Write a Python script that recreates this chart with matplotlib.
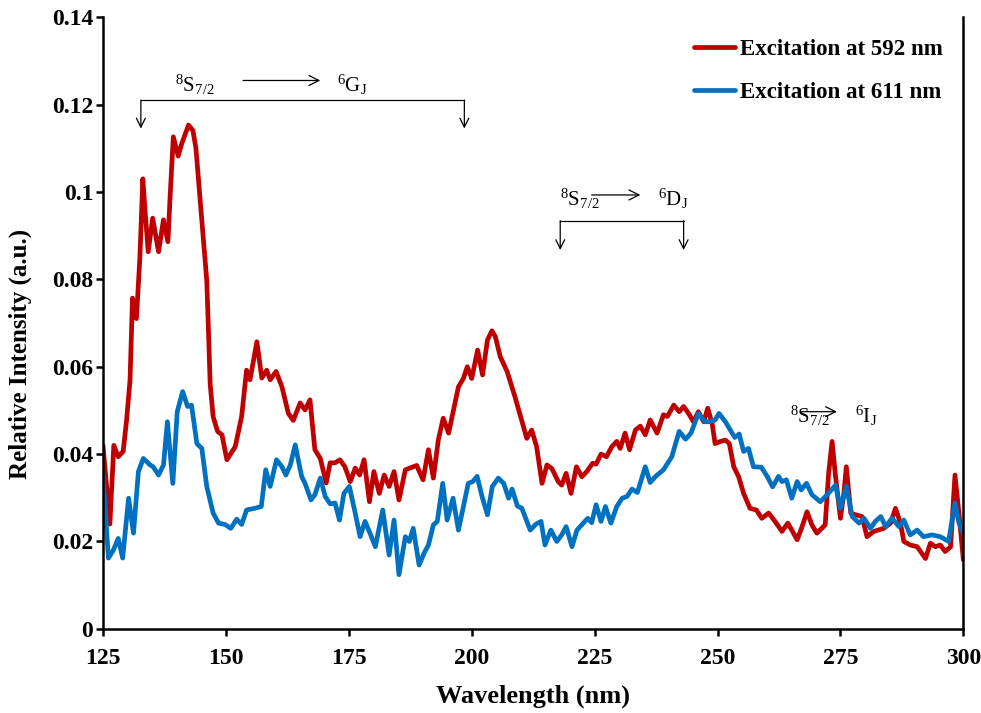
import matplotlib
matplotlib.use('Agg')
import matplotlib.pyplot as plt

plt.rcParams['font.family'] = ['Liberation Serif', 'DejaVu Serif']
plt.rcParams['mathtext.fontset'] = 'custom'
plt.rcParams['mathtext.rm'] = 'Liberation Serif'
plt.rcParams['mathtext.it'] = 'Liberation Serif:italic'
plt.rcParams['mathtext.bf'] = 'Liberation Serif:bold'

# Excitation at 592 nm (red)
wl_592 = [125.0, 126.4, 127.2, 128.1, 129.1, 129.8, 130.5, 131.0, 131.8, 132.5,
          133.1, 133.6, 134.2, 135.1, 136.3, 137.3, 138.2, 138.7, 139.3, 140.3,
          141.0, 142.4, 143.3, 143.9, 144.7, 145.5, 146.1, 146.4, 146.8, 147.4,
          148.3, 149.2, 150.2, 151.9, 153.2, 154.2, 154.9, 156.3, 157.3, 158.3,
          159.0, 160.2, 161.4, 162.7, 163.7, 165.1, 166.1, 167.1, 168.1, 169.2,
          170.4, 171.2, 172.2, 173.2, 174.2, 175.3, 176.3, 177.2, 178.1, 179.2,
          180.1, 181.2, 182.2, 183.2, 184.2, 185.2, 186.5, 188.8, 190.1, 191.2,
          192.2, 193.2, 194.2, 195.3, 197.3, 198.3, 199.1, 200.0, 201.2, 202.2,
          203.2, 204.1, 204.8, 205.8, 207.2, 208.8, 211.2, 212.2, 213.2, 214.3,
          215.3, 216.3, 217.6, 218.3, 219.2, 220.2, 221.3, 222.4, 223.4, 224.6,
          225.3, 226.3, 227.4, 228.5, 229.5, 230.2, 231.2, 232.1, 233.3, 234.3,
          235.3, 236.3, 237.7, 239.0, 239.8, 241.1, 242.2, 243.1, 244.1, 245.1,
          246.1, 247.2, 248.0, 248.9, 249.5, 250.6, 251.6, 252.4, 253.3, 254.3,
          255.3, 256.6, 257.9, 259.0, 260.4, 261.7, 263.1, 264.3, 266.2, 267.2,
          268.2, 269.2, 270.2, 271.9, 272.6, 273.3, 274.0, 275.0, 275.7, 276.2,
          277.1, 278.1, 279.4, 280.4, 281.8, 283.8, 285.2, 286.2, 287.2, 287.9,
          289.2, 290.6, 292.3, 293.3, 294.3, 295.3, 296.3, 297.4, 298.3, 299.1,
          300.0]
int_592 = [0.042, 0.024, 0.042, 0.0394, 0.0406, 0.0478, 0.057, 0.0757, 0.071, 0.085,
           0.103, 0.095, 0.0863, 0.094, 0.0863, 0.0936, 0.0886, 0.100, 0.1126, 0.1082,
           0.111, 0.1153, 0.114, 0.110, 0.0989, 0.088, 0.0798, 0.070, 0.056, 0.0486,
           0.0452, 0.0444, 0.0387, 0.0417, 0.0486, 0.0592, 0.057, 0.0657, 0.0574, 0.0592,
           0.057, 0.0589, 0.0554, 0.0493, 0.0477, 0.0517, 0.0501, 0.0524, 0.041, 0.039,
           0.0334, 0.038, 0.038, 0.0387, 0.0371, 0.0337, 0.0368, 0.0352, 0.0387, 0.0291,
           0.036, 0.031, 0.0352, 0.0326, 0.036, 0.0295, 0.0364, 0.0374, 0.0341, 0.041,
           0.0345, 0.0432, 0.0482, 0.0448, 0.0554, 0.0573, 0.060, 0.0573, 0.0638, 0.0581,
           0.0661, 0.0682, 0.0669, 0.0623, 0.0589, 0.0531, 0.0436, 0.0455, 0.0417, 0.0333,
           0.0375, 0.0367, 0.0337, 0.0329, 0.0356, 0.031, 0.0371, 0.0348, 0.036, 0.0379,
           0.0377, 0.040, 0.0394, 0.0417, 0.0429, 0.0413, 0.0448, 0.041, 0.0455, 0.0464,
           0.0444, 0.0478, 0.0448, 0.049, 0.0486, 0.0512, 0.0497, 0.0509, 0.0493, 0.0474,
           0.0497, 0.0474, 0.0505, 0.047, 0.0424, 0.0429, 0.0432, 0.0424, 0.0371, 0.0348,
           0.031, 0.0276, 0.0272, 0.0253, 0.0265, 0.0246, 0.0223, 0.0242, 0.0204, 0.0234,
           0.0268, 0.0238, 0.0219, 0.0238, 0.0356, 0.0429, 0.0349, 0.0253, 0.031, 0.0371,
           0.0265, 0.0261, 0.0257, 0.0211, 0.0223, 0.023, 0.0242, 0.0276, 0.0242, 0.020,
           0.0192, 0.0188, 0.0161, 0.0196, 0.0188, 0.0192, 0.0177, 0.0188, 0.0352, 0.0265,
           0.0158]

# Excitation at 611 nm (blue)
wl_611 = [125.0, 126.1, 127.1, 128.1, 129.0, 130.2, 131.2, 132.2, 133.2, 134.6,
          135.2, 136.3, 137.3, 138.1, 139.2, 140.1, 141.2, 142.2, 143.0, 144.1,
          145.1, 146.1, 147.4, 148.5, 149.8, 151.0, 152.2, 153.2, 154.2, 155.9,
          157.2, 158.1, 159.0, 160.3, 161.4, 162.2, 163.1, 164.1, 165.4, 166.1,
          167.3, 168.1, 169.2, 170.2, 171.2, 172.2, 173.1, 174.0, 175.1, 176.3,
          177.3, 178.3, 179.3, 180.4, 181.9, 183.2, 184.2, 185.2, 186.5, 187.3,
          188.1, 189.3, 190.3, 191.2, 192.2, 193.0, 194.1, 195.0, 196.2, 197.3,
          198.3, 199.3, 200.2, 201.1, 202.1, 203.2, 204.2, 205.4, 206.5, 207.5,
          208.2, 209.3, 210.2, 211.9, 213.1, 214.1, 214.9, 216.1, 217.3, 218.3,
          219.2, 220.4, 221.4, 222.7, 223.6, 224.4, 225.3, 226.3, 227.2, 228.3,
          229.5, 230.6, 231.6, 232.6, 233.7, 235.3, 236.3, 237.5, 239.0, 240.7,
          242.2, 243.5, 244.6, 246.1, 247.5, 248.5, 249.5, 250.3, 251.6, 252.6,
          253.5, 254.4, 255.3, 256.3, 257.3, 258.9, 260.1, 261.2, 262.4, 263.1,
          264.0, 265.1, 266.2, 267.0, 268.1, 269.2, 270.9, 272.3, 274.0, 275.0,
          276.2, 277.4, 278.8, 279.8, 281.1, 282.1, 283.2, 284.2, 285.5, 286.9,
          287.9, 289.2, 290.6, 291.9, 293.6, 295.3, 297.0, 298.3, 299.1, 300.0]
int_611 = [0.0352, 0.0162, 0.018, 0.0207, 0.0162, 0.0299, 0.0219, 0.036, 0.039, 0.0375,
           0.0371, 0.0352, 0.0375, 0.0474, 0.0333, 0.0497, 0.0543, 0.0509, 0.0512, 0.0424,
           0.0413, 0.0326, 0.0265, 0.0242, 0.0239, 0.023, 0.0251, 0.0239, 0.0272, 0.0276,
           0.028, 0.0364, 0.0326, 0.0387, 0.0371, 0.0352, 0.0375, 0.0421, 0.0349, 0.0333,
           0.0295, 0.0307, 0.0345, 0.0303, 0.0286, 0.0288, 0.0249, 0.031, 0.0326, 0.0265,
           0.0211, 0.0246, 0.0219, 0.0188, 0.0272, 0.0169, 0.0249, 0.0124, 0.0211, 0.020,
           0.023, 0.0146, 0.0173, 0.0192, 0.0238, 0.0246, 0.0333, 0.0249, 0.0299, 0.0226,
           0.028, 0.0333, 0.0337, 0.0349, 0.0303, 0.0261, 0.0326, 0.0345, 0.0333, 0.0299,
           0.032, 0.0281, 0.0276, 0.0226, 0.024, 0.0246, 0.0192, 0.0226, 0.020, 0.0215,
           0.0234, 0.0188, 0.0226, 0.0242, 0.0253, 0.0243, 0.0284, 0.0246, 0.028, 0.0242,
           0.028, 0.0299, 0.0303, 0.032, 0.0312, 0.0371, 0.0335, 0.035, 0.0364, 0.0394,
           0.0452, 0.0434, 0.0448, 0.0493, 0.0474, 0.0474, 0.0478, 0.0493, 0.0474, 0.0455,
           0.0438, 0.0446, 0.0406, 0.0413, 0.0371, 0.037, 0.0349, 0.0325, 0.0349, 0.0337,
           0.0341, 0.0299, 0.0337, 0.0318, 0.0333, 0.0307, 0.0291, 0.0307, 0.0329, 0.0276,
           0.0326, 0.0257, 0.0242, 0.0253, 0.023, 0.0246, 0.0257, 0.0234, 0.0253, 0.0234,
           0.0249, 0.0215, 0.0226, 0.0211, 0.0215, 0.0211, 0.020, 0.0288, 0.0242, 0.0219]

x_ticks = [125, 150, 175, 200, 225, 250, 275, 300]
y_ticks = [0, 0.02, 0.04, 0.06, 0.08, 0.1, 0.12, 0.14]
y_tick_labels = ['0', '0.02', '0.04', '0.06', '0.08', '0.1', '0.12', '0.14']


def bracket(ax, x0, x1, y_top, y_tip):
    # horizontal bar with a downward arrow at each end
    ax.plot([x0, x1], [y_top, y_top], color='black', lw=0.9)
    for x in (x0, x1):
        ax.annotate('', xy=(x, y_tip), xytext=(x, y_top),
                    arrowprops=dict(arrowstyle='->', color='black', lw=0.9,
                                    mutation_scale=16, shrinkA=0, shrinkB=0))


def transition(ax, x_lo, x_arrow0, x_arrow1, x_hi, y, y_arrow, upper):
    ax.text(x_lo, y, r'$\mathregular{^8S_{7/2}}$', fontsize=15,
            ha='center', va='center')
    ax.annotate('', xy=(x_arrow1, y_arrow), xytext=(x_arrow0, y_arrow),
                arrowprops=dict(arrowstyle='->', color='black', lw=0.9,
                                mutation_scale=18, shrinkA=0, shrinkB=0))
    ax.text(x_hi, y, upper, fontsize=15, ha='center', va='center')


def main():
    fig = plt.figure(figsize=(9.81, 7.13), dpi=100)
    ax = fig.add_axes([0.105, 0.118, 0.877, 0.858])

    ax.plot(wl_592, int_592, color='#C00000', lw=3.4, label='Excitation at 592 nm',
            solid_joinstyle='round', solid_capstyle='round')
    ax.plot(wl_611, int_611, color='#0070C0', lw=3.4, label='Excitation at 611 nm',
            solid_joinstyle='round', solid_capstyle='round')

    ax.set_xlim(125, 300)
    ax.set_ylim(0, 0.14)
    ax.set_xticks(x_ticks)
    ax.set_yticks(y_ticks)
    ax.set_yticklabels(y_tick_labels)
    for lbl in ax.get_xticklabels() + ax.get_yticklabels():
        lbl.set_fontweight('bold')
    ax.tick_params(direction='out', length=5, width=1.8, labelsize=17)
    ax.tick_params(axis='x', pad=9)
    ax.tick_params(axis='y', pad=2)

    ax.spines['top'].set_visible(False)
    for side in ('left', 'bottom', 'right'):
        ax.spines[side].set_linewidth(1.8)

    ax.set_xlabel('Wavelength (nm)', fontsize=19, fontweight='bold', labelpad=11)
    ax.set_ylabel('Relative Intensity (a.u.)', fontsize=18, fontweight='bold')
    ax.yaxis.set_label_coords(-0.083, 0.449)

    # transition annotations
    transition(ax, 143.7, 153.5, 169.2, 175.7, 0.1245, 0.1255, r'$\mathregular{^6G_J}$')
    bracket(ax, 132.7, 198.5, 0.121, 0.1145)
    transition(ax, 221.9, 224.4, 234.3, 240.9, 0.0985, 0.0993, r'$\mathregular{^6D_J}$')
    bracket(ax, 218.0, 243.1, 0.0934, 0.0867)
    transition(ax, 268.7, 267.1, 274.3, 280.3, 0.0487, 0.0497, r'$\mathregular{^6I_J}$')

    ax.legend(loc='upper right', bbox_to_anchor=(1.0, 0.998), frameon=False,
              prop={'weight': 'bold', 'size': 16.5}, handlelength=1.8,
              handletextpad=0.2, labelspacing=0.95)

    fig.savefig('out.png', dpi=100)


if __name__ == '__main__':
    main()
